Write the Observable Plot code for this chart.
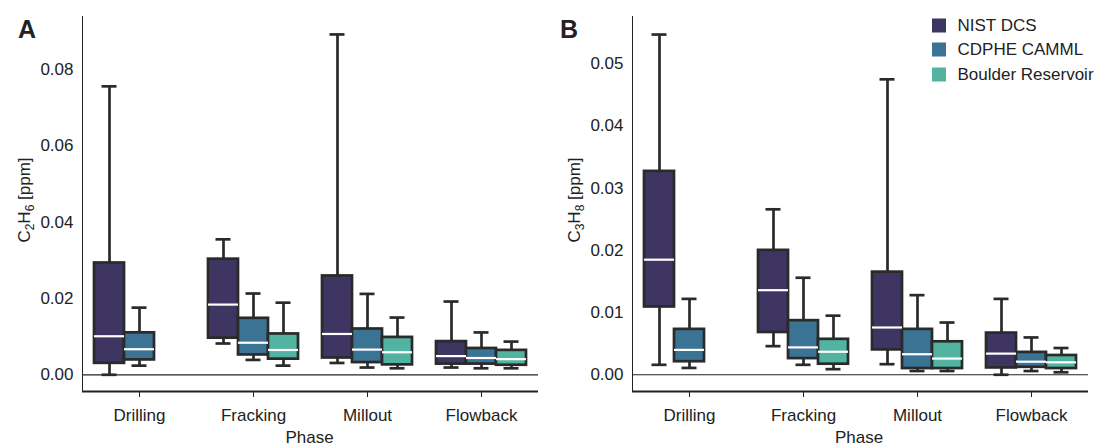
<!DOCTYPE html>
<html>
<head>
<meta charset="utf-8">
<script src="https://cdn.jsdelivr.net/npm/d3@7"></script>
<script src="https://cdn.jsdelivr.net/npm/@observablehq/plot@0.6"></script>
<style>
  html, body { margin: 0; padding: 0; background: #fff; }
  #fig { position: relative; width: 1099px; height: 445px; overflow: hidden; font-family: "Liberation Sans", Arial, sans-serif; color: #222; }
  .panel { position: absolute; top: 0; }
  #fig svg [aria-label^="y-axis"] { stroke-width: 2; }
  .lbl { position: absolute; white-space: nowrap; line-height: 1; font-size: 17px; }
  .ylab { transform: translate(-50%, -50%) rotate(-90deg); }
  .xlab { transform: translate(-50%, -50%); }
  .sub { font-size: 12px; position: relative; top: 4px; }
  .letter { position: absolute; font-weight: bold; font-size: 25px; line-height: 1; }
  .leg { position: absolute; display: flex; align-items: center; font-size: 17px; line-height: 1; white-space: nowrap; }
  .sw { width: 14px; height: 14px; margin-right: 12px; }
</style>
</head>
<body>
<div id="fig"></div>
<script>
// ---- categories ----
const phases = ["Drilling", "Fracking", "Millout", "Flowback"];
const sources = ["NIST DCS", "CDPHE CAMML", "Boulder Reservoir"];
const sourceColors = ["#3e3563", "#3b7394", "#52b3a0"];

// ---- panel A: C2H6 [ppm]; rows = phases, columns = sources (null = no data) ----
const ethaneLow  = [[0.0000, 0.0024, null], [0.0082, 0.0039, 0.0024], [0.0031, 0.0019, 0.0017], [0.0019, 0.0017, 0.0017]];
const ethaneQ1   = [[0.0030, 0.0039, null], [0.0096, 0.0052, 0.0041], [0.0044, 0.0032, 0.0026], [0.0028, 0.0028, 0.0025]];
const ethaneMed  = [[0.0101, 0.0067, null], [0.0184, 0.0084, 0.0065], [0.0107, 0.0066, 0.0059], [0.0049, 0.0044, 0.0041]];
const ethaneQ3   = [[0.0293, 0.0110, null], [0.0303, 0.0148, 0.0107], [0.0259, 0.0120, 0.0098], [0.0087, 0.0069, 0.0064]];
const ethaneHigh = [[0.0756, 0.0176, null], [0.0355, 0.0213, 0.0189], [0.0892, 0.0212, 0.0150], [0.0192, 0.0111, 0.0087]];
const ethaneTicks = [0, 0.02, 0.04, 0.06, 0.08];

// ---- panel B: C3H8 [ppm] ----
const propaneLow  = [[0.0016, 0.0011, null], [0.0046, 0.0016, 0.0009], [0.0017, 0.0006, 0.0006], [0.0000, 0.0006, 0.0004]];
const propaneQ1   = [[0.0109, 0.0021, null], [0.0068, 0.0026, 0.0017], [0.0040, 0.0010, 0.0010], [0.0011, 0.0012, 0.0010]];
const propaneMed  = [[0.0185, 0.0040, null], [0.0136, 0.0044, 0.0037], [0.0076, 0.0033, 0.0026], [0.0034, 0.0021, 0.0020]];
const propaneQ3   = [[0.0327, 0.0073, null], [0.0200, 0.0087, 0.0057], [0.0165, 0.0073, 0.0053], [0.0067, 0.0036, 0.0031]];
const propaneHigh = [[0.0547, 0.0122, null], [0.0266, 0.0156, 0.0095], [0.0475, 0.0128, 0.0084], [0.0122, 0.0060, 0.0043]];
const propaneTicks = [0, 0.01, 0.02, 0.03, 0.04, 0.05];

function buildRows(low, q1, med, q3, high) {
  const rows = [];
  phases.forEach((p, i) => sources.forEach((s, j) => {
    if (med[i][j] == null) return;
    rows.push({phase: p, source: s, low: low[i][j], q1: q1[i][j], med: med[i][j], q3: q3[i][j], high: high[i][j]});
  }));
  return rows;
}

const INK = "#2a2a2a";

function panel(rows, yDomain, yTicks, width) {
  return Plot.plot({
    width, height: 445,
    marginLeft: 81, marginRight: width - 538, marginTop: 16, marginBottom: 54,
    style: {fontFamily: '"Liberation Sans", Arial, sans-serif', fontSize: "17px", color: "#222", background: "white", overflow: "visible"},
    facet: {data: rows, x: "phase"},
    fx: {domain: phases, padding: 0, axis: "bottom", tickSize: 6, tickPadding: 11, label: null},
    x: {domain: sources, paddingInner: 0, paddingOuter: 0.353, axis: null},
    y: {domain: yDomain, ticks: yTicks, tickFormat: d3.format(".2f"), tickSize: 0, tickPadding: 9, label: null, line: true},
    color: {domain: sources, range: sourceColors},
    marks: [
      Plot.ruleY([0], {stroke: "#222", strokeWidth: 1.2}),
      Plot.ruleY([yDomain[0]], {stroke: "#222", strokeWidth: 1.8}),
      Plot.ruleX(rows, {x: "source", y1: "low", y2: "high", stroke: INK, strokeWidth: 2.7}),
      Plot.tickY(rows, {x: "source", y: "low", stroke: INK, strokeWidth: 2.7, insetLeft: 7.5, insetRight: 7.5}),
      Plot.tickY(rows, {x: "source", y: "high", stroke: INK, strokeWidth: 2.7, insetLeft: 7.5, insetRight: 7.5}),
      Plot.barY(rows, {x: "source", y1: "q1", y2: "q3", fill: "source", stroke: INK, strokeWidth: 2.7}),
      Plot.tickY(rows, {x: "source", y: "med", stroke: "white", strokeWidth: 2.2})
    ]
  });
}

const fig = document.getElementById("fig");

const rowsA = buildRows(ethaneLow, ethaneQ1, ethaneMed, ethaneQ3, ethaneHigh);
const rowsB = buildRows(propaneLow, propaneQ1, propaneMed, propaneQ3, propaneHigh);

const pA = document.createElement("div"); pA.className = "panel"; pA.style.left = "0px";
pA.appendChild(panel(rowsA, [-0.00438, 0.0939], ethaneTicks, 550));
fig.appendChild(pA);

const pB = document.createElement("div"); pB.className = "panel"; pB.style.left = "550px";
pB.appendChild(panel(rowsB, [-0.00269, 0.0576], propaneTicks, 549));
fig.appendChild(pB);

function addHTML(cls, left, top, html) {
  const d = document.createElement("div");
  d.className = cls;
  d.style.left = left + "px"; d.style.top = top + "px";
  d.innerHTML = html;
  fig.appendChild(d);
  return d;
}

// panel letters
addHTML("letter", 18, 17, "A");
addHTML("letter", 560, 17, "B");
// y labels
addHTML("lbl ylab", 24, 200, 'C<span class="sub">2</span>H<span class="sub">6</span> [ppm]');
addHTML("lbl ylab", 574, 200, 'C<span class="sub">3</span>H<span class="sub">8</span> [ppm]');
// x labels
addHTML("lbl xlab", 309.5, 437, "Phase");
addHTML("lbl xlab", 859, 437, "Phase");

// legend
const legendTop = [25, 49.3, 74];
sources.forEach((s, i) => {
  const d = addHTML("leg", 931.5, legendTop[i], "");
  d.style.transform = "translateY(-50%)";
  const sw = document.createElement("div"); sw.className = "sw"; sw.style.background = sourceColors[i];
  const t = document.createElement("span"); t.textContent = s;
  d.appendChild(sw); d.appendChild(t);
});
</script>
</body>
</html>
